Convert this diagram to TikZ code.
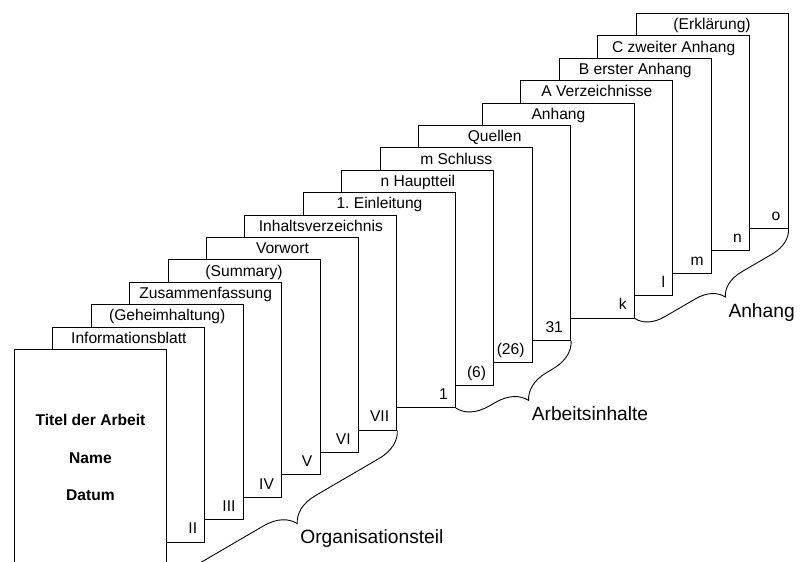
\documentclass[tikz,border=0pt]{standalone}
\usepackage{fontspec}
\setmainfont{Liberation Sans}
\usetikzlibrary{positioning,calc,decorations.pathreplacing}
\frenchspacing

\tikzset{
  page/.style={draw, fill=white, line width=0.9pt, minimum width=152pt, minimum height=215pt, anchor=north west, inner sep=0pt},
  head/.style={anchor=base, font=\fontsize{15.6}{18}\selectfont, inner sep=0pt},
  titel/.style={font=\bfseries\fontsize{15.6}{18}\selectfont, inner sep=0pt},
  pnum/.style={anchor=base east, font=\fontsize{15.6}{18}\selectfont, inner sep=0pt},
  part/.style={anchor=base west, font=\fontsize{19.2}{22}\selectfont, inner sep=0pt},
  curly/.style={decorate, decoration={brace, amplitude=#1}, line width=0.9pt},
}

\begin{document}
\begin{tikzpicture}[x=1pt, y=1pt]
\useasboundingbox (0,0) rectangle (801,562);

\foreach \t/\n [count=\c] in {(Erklärung)/o, C zweiter Anhang/n, B erster Anhang/m, A Verzeichnisse/l, Anhang/k, Quellen/31, m Schluss/(26), n Hauptteil/(6), 1. Einleitung/1, Inhaltsverzeichnis/VII, Vorwort/VI, (Summary)/V, Zusammenfassung/IV, (Geheimhaltung)/III, Informationsblatt/II} {
  \pgfmathtruncatemacro\i{16-\c}
  \pgfmathsetmacro\x{14+38.4*\i+20.2*(\i>6)+25.4*(\i>10)}
  \node[page] (p\i) at (\x, 213+22.4*\i) {};
  \node[head] (h\i) at ([yshift=-16.8pt]p\i.north) {\t};
  \node[pnum] (n\i) at ([shift={(-8pt,8.5pt)}]p\i.south east) {\n};
}

\node[page] (p0) at (14,213) {};
\node[titel, anchor=base] (t1) at ([yshift=-77pt]p0.north) {Titel der Arbeit};
\node[titel, below=26pt of t1] (t2) {Name};
\node[titel, below=26pt of t2] (t3) {Datum};

\draw[curly=30pt] (p6.south east) -- (p0.south east);
\coordinate (o) at ($(p6.south east)!0.5!(p0.south east)!30pt!90:(p0.south east)$);
\node[part] (l1) at ([shift={(3pt,-20pt)}]o) {Organisationsteil};

\draw[curly=30pt] (p10.south east) -- (p7.south east);
\coordinate (a) at ($(p10.south east)!0.5!(p7.south east)!30pt!90:(p7.south east)$);
\node[part] (l2) at ([shift={(3pt,-20pt)}]a) {Arbeitsinhalte};

\draw[curly=27pt] (p15.south east) -- (p11.south east);
\coordinate (h) at ($(p15.south east)!0.5!(p11.south east)!27pt!90:(p11.south east)$);
\node[part] (l3) at ([shift={(3pt,-20pt)}]h) {Anhang};
\end{tikzpicture}
\end{document}
